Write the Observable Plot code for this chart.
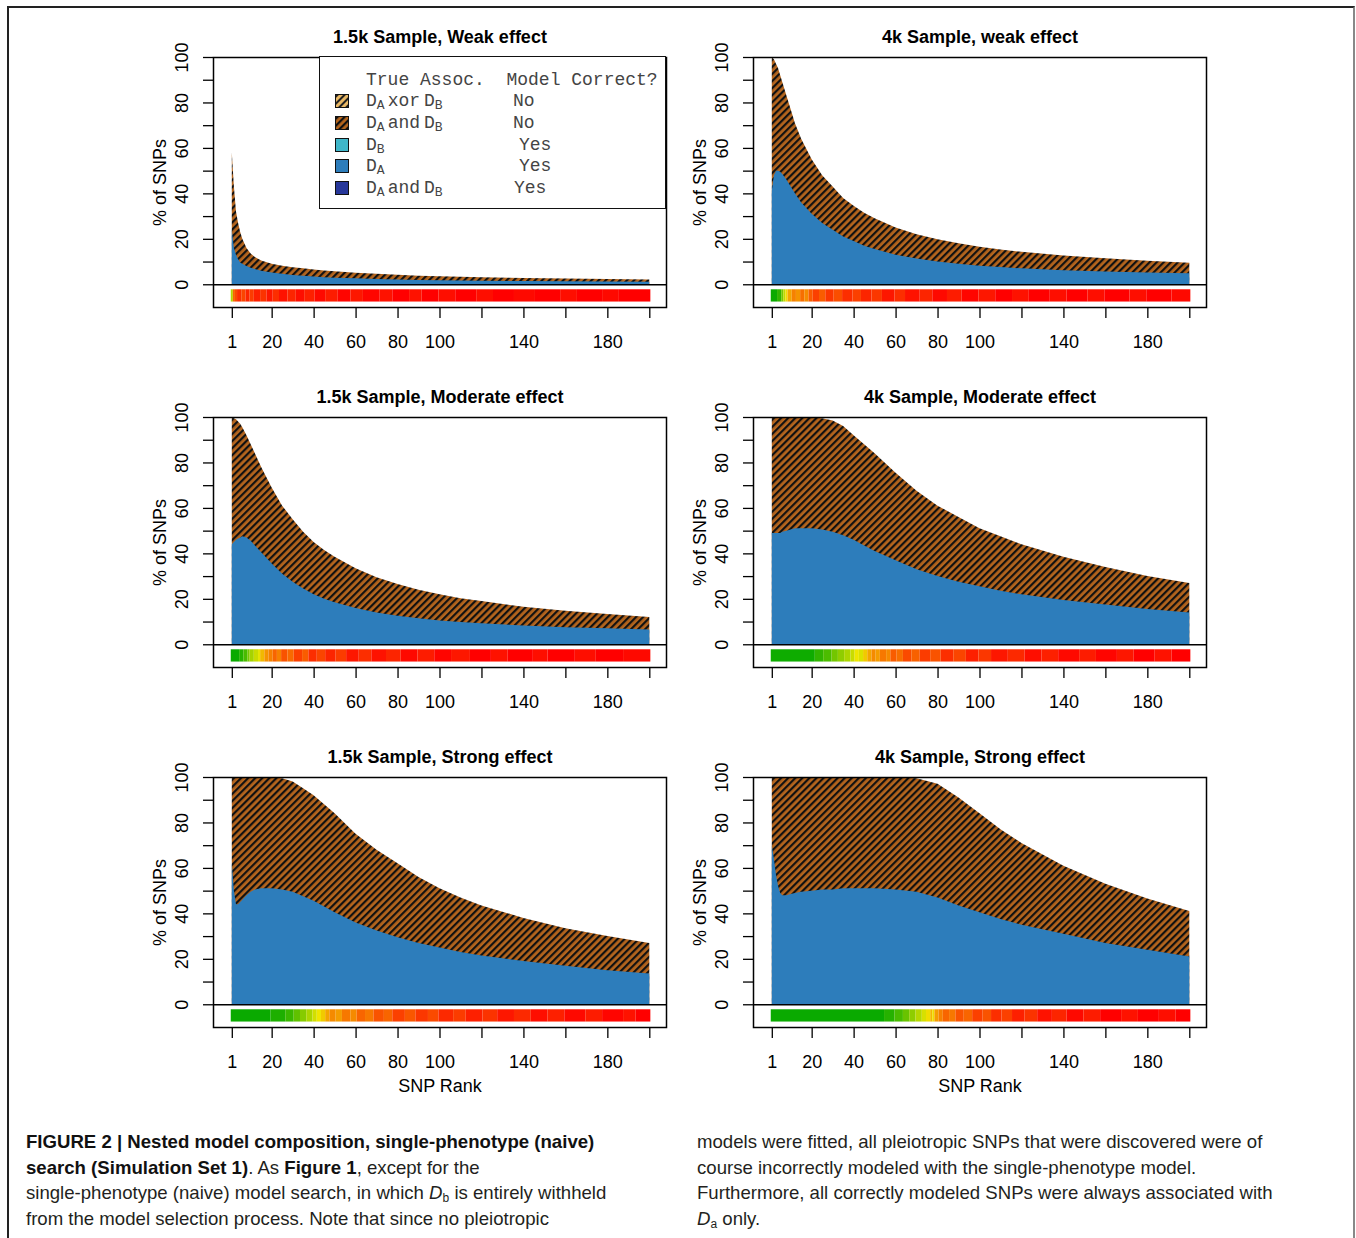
<!DOCTYPE html>
<html><head><meta charset="utf-8">
<script src="https://cdn.jsdelivr.net/npm/d3@7"></script>
<script src="https://cdn.jsdelivr.net/npm/@observablehq/plot@0.6"></script>
<style>
body{margin:0;background:#fff;}
#page{position:relative;width:1356px;height:1238px;overflow:hidden;background:#fff;font-family:'Liberation Sans',Arial,sans-serif;}
#frame{position:absolute;left:7px;top:6px;width:1344px;height:1260px;border-left:2px solid #222;border-top:2px solid #222;border-right:2px solid #888;}
.panel{position:absolute;}
#legend{position:absolute;left:319px;top:56px;width:345px;height:151px;border:1.5px solid #111;background:#fff;font-family:'Liberation Mono','Courier New',monospace;font-size:18px;color:#444;}
#legend .t{position:absolute;white-space:pre;line-height:20px;transform:translateY(-50%);}
#legend .sw{position:absolute;width:12px;height:12px;border:1.5px solid #111;transform:translateY(-50%);}
#legend sub{font-size:13px;vertical-align:-3px;line-height:0;}
#legend .w{margin:0 4px 0 3px;}
.cap{position:absolute;font-size:18.6px;line-height:25.5px;color:#231f20;white-space:nowrap;}
.cap b{font-weight:bold;color:#111;}
.cap sub{font-size:12px;vertical-align:-3px;line-height:0;}
</style></head><body>
<svg width="0" height="0" style="position:absolute">
 <defs>
  <pattern id="hatch" patternUnits="userSpaceOnUse" width="5" height="5" patternTransform="rotate(45)">
   <rect width="5" height="5" fill="#b5651d"></rect><rect width="2.2" height="5" fill="#111"></rect>
  </pattern>
  <pattern id="hatchLight" patternUnits="userSpaceOnUse" width="5" height="5" patternTransform="rotate(45)">
   <rect width="5" height="5" fill="#e9b865"></rect><rect width="2" height="5" fill="#222"></rect>
  </pattern>
 </defs>
</svg>
<div id="page"><div id="frame"></div></div>
<script>
// ---- sampled SNP ranks ----
const ranks = [1,2,3,4,5,6,8,10,12,15,20,25,30,35,40,45,50,60,70,80,90,100,110,120,140,160,180,200];

// ---- % of SNPs: total (D_A and D_B incorrect on top of D_A correct) and D_A correct ----
const weak15Total = [58,43,32,27,23,20,16,13.5,12,10.5,9,8.2,7.5,7,6.5,6.1,5.7,5.1,4.6,4.2,3.8,3.5,3.3,3.1,2.8,2.5,2.3,2.1];
const weak15DA    = [24,16,13,11,9.6,9,8,7.3,6.7,6,5.2,4.6,4.1,3.7,3.4,3.1,2.9,2.6,2.3,2.1,1.9,1.8,1.7,1.6,1.4,1.3,1.2,1.1];
const weak4Total  = [100,99,97,95,92,89,83,77,71,64,55,48,43,38,34.5,31.5,29,25,22,19.8,18,16.5,15.3,14.3,12.7,11.4,10.3,9.5];
const weak4DA     = [41,48,50,50,49.5,48.5,46,43,40,36,31,27,24,21,19,17,15.5,13,11.3,10,9,8.2,7.6,7,6.2,5.6,5.2,4.8];
const mod15Total  = [100,99.5,99,98,97,95.5,92,88,84,78,69,61,55,49.5,45,41.5,38.5,33.5,29.5,26.5,24,22,20.3,19,16.5,14.8,13.3,12];
const mod15DA     = [44,45,46,46.5,47,47.5,47,45.5,43.5,40.5,35.5,31,27.5,24.5,22,20,18.5,16,14,12.5,11.5,10.5,9.8,9.2,8.3,7.5,7,6.5];
const mod4Total   = [100,100,100,100,100,100,100,100,100,100,100,99.5,98.5,96,92,88,84,75.5,67.5,61,56,51,47.5,44,38.5,34,30,27];
const mod4DA      = [49,49,49,49,49,49.5,50,50.5,51,51,51,50.5,49.5,48,46,43.5,41,37,33,30,27.5,25.5,23.5,22,19.5,17.5,15.5,14];
const strong15Total = [100,100,100,100,100,100,100,100,100,100,100,99.5,98,95,92,88,84,75,68,62,56,51,47,43.5,38,33.5,30,27];
const strong15DA    = [62,50,44,44,45,46,48,49.5,50.5,51,51,50.5,49.5,47.5,45.5,43,40.5,36,32.5,29.5,27,25,23,21.5,19,17,15,13.5];
const strong4Total  = [100,100,100,100,100,100,100,100,100,100,100,100,100,100,100,100,100,100,99.5,97,91,84,77,71,61,53,46.5,41];
const strong4DA     = [70,64,57,52,49,48,48,48.5,49,49.5,50,50.5,50.5,51,51,51,51,50.5,49.5,47,43.5,40.5,37.5,35,31,27,24,21];

// ---- colour strip: [first rank of run, score 0=green .. 1=red] ----
const weak15Strip = [[1,0.38],[2,0.78],[3,0.84],[4,0.9],[6,0.85],[8,0.92],[10,0.87],[12,0.93],[15,0.89],[18,0.95],[21,0.9],[24,0.96],[28,0.92],[32,0.97],[36,0.93],[41,0.98],[46,0.94],[52,0.99],[58,0.95],[64,0.99],[72,0.96],[78,1],[86,0.96],[92,1],[100,0.97],[108,1],[118,0.97],[126,1],[136,0.98],[146,1],[158,0.97],[166,1],[178,0.98],[186,1]];
const weak4Strip  = [[1,0.02],[4,0.1],[6,0.25],[7,0.4],[8,0.52],[9,0.64],[11,0.72],[13,0.68],[15,0.76],[17,0.7],[19,0.8],[21,0.86],[24,0.8],[27,0.88],[31,0.83],[35,0.9],[40,0.86],[44,0.92],[49,0.88],[54,0.95],[60,0.9],[65,0.96],[72,0.92],[78,0.98],[85,0.94],[92,0.99],[100,0.95],[108,1],[116,0.96],[124,1],[134,0.97],[142,1],[152,0.97],[160,1],[172,0.97],[180,1],[192,0.98]];
const mod15Strip  = [[1,0.02],[5,0.08],[7,0.15],[9,0.25],[10,0.35],[12,0.42],[14,0.48],[15,0.6],[17,0.68],[19,0.72],[21,0.78],[23,0.72],[25,0.82],[28,0.77],[31,0.86],[35,0.8],[38,0.9],[42,0.85],[46,0.92],[51,0.87],[56,0.95],[62,0.9],[68,0.96],[75,0.92],[82,0.98],[90,0.94],[98,0.99],[106,0.95],[115,1],[125,0.96],[133,1],[145,0.97],[152,1],[165,0.97],[175,1],[188,0.98]];
const mod4Strip   = [[1,0.03],[22,0.1],[26,0.16],[30,0.24],[33,0.3],[36,0.36],[39,0.42],[41,0.5],[43,0.46],[45,0.56],[47,0.64],[49,0.7],[51,0.66],[53,0.74],[56,0.7],[58,0.8],[61,0.76],[64,0.84],[68,0.79],[72,0.87],[77,0.82],[82,0.9],[88,0.85],[94,0.93],[100,0.88],[106,0.95],[114,0.91],[122,0.97],[130,0.93],[138,0.98],[148,0.94],[156,0.99],[166,0.95],[174,1],[184,0.96],[192,1]];
const strong15Strip = [[1,0.02],[20,0.06],[27,0.12],[31,0.2],[34,0.28],[37,0.36],[40,0.44],[42,0.5],[44,0.56],[46,0.64],[48,0.7],[51,0.66],[54,0.74],[58,0.7],[61,0.78],[65,0.74],[69,0.82],[74,0.78],[78,0.86],[84,0.81],[89,0.88],[95,0.84],[100,0.91],[107,0.87],[113,0.93],[121,0.89],[128,0.95],[136,0.91],[144,0.97],[152,0.93],[160,0.98],[170,0.94],[178,0.99],[188,0.96],[194,1]];
const strong4Strip  = [[1,0.02],[55,0.08],[60,0.15],[64,0.22],[67,0.3],[70,0.38],[73,0.45],[75,0.52],[77,0.6],[78,0.52],[79,0.66],[81,0.72],[83,0.78],[86,0.74],[89,0.82],[93,0.78],[97,0.86],[102,0.82],[106,0.9],[111,0.86],[116,0.93],[122,0.89],[128,0.96],[135,0.92],[142,0.98],[150,0.94],[158,1],[168,0.96],[176,1],[186,0.97],[194,1]];

// ---- axes ----
const xTicks = [1,20,40,60,80,100,120,140,160,180,200];
const xLabels = [1,20,40,60,80,100,140,180];
const yTicks = [0,10,20,30,40,50,60,70,80,90,100];
const yLabels = [0,20,40,60,80,100];

const titles = ["1.5k Sample, Weak effect","4k Sample, weak effect","1.5k Sample, Moderate effect","4k Sample, Moderate effect","1.5k Sample, Strong effect","4k Sample, Strong effect"];

const panels = [
  {title:titles[0], total:weak15Total, da:weak15DA, strip:weak15Strip, col:0, row:0},
  {title:titles[1], total:weak4Total, da:weak4DA, strip:weak4Strip, col:1, row:0},
  {title:titles[2], total:mod15Total, da:mod15DA, strip:mod15Strip, col:0, row:1},
  {title:titles[3], total:mod4Total, da:mod4DA, strip:mod4Strip, col:1, row:1},
  {title:titles[4], total:strong15Total, da:strong15DA, strip:strong15Strip, col:0, row:2},
  {title:titles[5], total:strong4Total, da:strong4DA, strip:strong4Strip, col:1, row:2}
];

const page = document.getElementById("page");
const boxLefts = [213, 753], boxTops = [57, 417, 777];
const ML = 90, MT = 45, MR = 15, MB = 80, BW = 453, BH = 250;

for (const p of panels) {
  const rows = ranks.map((r,i)=>({rank:r, total:p.total[i], da:p.da[i]}));
  const segs = p.strip.map((s,i)=>({start:s[0], end: i+1<p.strip.length ? p.strip[i+1][0]-1 : 200, v:s[1]}));
  const bottom = p.row === 2;
  const chart = Plot.plot({
    width: ML+BW+MR, height: MT+BH+MB,
    marginLeft: ML, marginRight: MR, marginTop: MT, marginBottom: MB,
    x: {domain:[-7.96, 207.96]},
    y: {domain:[-10, 100]},
    color: {type:"linear", domain:[0,0.5,1], range:["#00a800","#efe600","#ff0000"], interpolate:"rgb"},
    style: {fontFamily:"'Liberation Sans', Arial, sans-serif", fontSize:"18px", color:"black", background:"transparent", overflow:"visible"},
    marks: [
      Plot.areaY(rows, {x:"rank", y1:0, y2:"total", fill:"url(#hatch)"}),
      Plot.areaY(rows, {x:"rank", y1:0, y2:"da", fill:"#2d7dbb"}),
      Plot.rect(segs, {x1:d=>d.start-0.5, x2:d=>d.end+0.5, y1:-2.2, y2:-7.6, fill:"v"}),
      Plot.ruleY([0], {stroke:"black", strokeWidth:1.4}),
      Plot.frame({stroke:"black", strokeWidth:1.5}),
      Plot.axisX({ticks:xTicks, tickFormat:d=>xLabels.includes(d)?String(d):"", tickSize:11, tickPadding:17, strokeWidth:1.3,
        label: bottom ? "SNP Rank" : null, labelAnchor:"center", labelOffset:64, labelArrow:"none"}),
      Plot.axisY({ticks:yTicks, tickFormat:d=>yLabels.includes(d)?String(d):"", tickRotate:-90, tickSize:10, tickPadding:16, strokeWidth:1.3,
        label:"% of SNPs", labelAnchor:"center", labelOffset:60, labelArrow:"none"}),
      Plot.text([p.title], {frameAnchor:"top", dy:-27, fontWeight:"bold", fontSize:18})
    ]
  });
  chart.classList.add("panel");
  chart.style.left = (boxLefts[p.col]-ML)+"px";
  chart.style.top = (boxTops[p.row]-MT)+"px";
  page.appendChild(chart);
}

// ---- legend ----
const legendRows = [
  {sw:"url(#hatchLight)", a:"xor", ans:"No", ax:513},
  {sw:"url(#hatch)", a:"and", ans:"No", ax:513},
  {sw:"#3fb6c9", a:null, b:"B", ans:"Yes", ax:519},
  {sw:"#2d7dbb", a:null, b:"A", ans:"Yes", ax:519},
  {sw:"#27379a", a:"and", ans:"Yes", ax:514}
];
const lg = document.createElement("div");
lg.id = "legend";
const L0 = 320, T0 = 57;
let html = `<div class="t" style="left:${366-L0}px;top:${80-T0}px">True Assoc.  Model Correct?</div>`;
const rowY = [101,123,145,166,188];
legendRows.forEach((r,i)=>{
  const y = rowY[i]-T0;
  const swBg = r.sw.startsWith("url") ? "" : `background:${r.sw};`;
  html += `<div class="sw" style="left:${335-L0}px;top:${y}px;${swBg}">${r.sw.startsWith("url") ? `<svg width="12" height="12" style="display:block"><rect width="12" height="12" fill="${r.sw}"></rect></svg>` : ""}</div>`;
  const label = r.a ? `D<sub>A</sub><span class="w">${r.a}</span>D<sub>B</sub>` : `D<sub>${r.b}</sub>`;
  html += `<div class="t" style="left:${366-L0}px;top:${y}px">${label}</div>`;
  html += `<div class="t" style="left:${r.ax-L0}px;top:${y}px">${r.ans}</div>`;
});
lg.innerHTML = html;
page.appendChild(lg);

// ---- caption ----
const capLeft = [
  `<b>FIGURE 2 | Nested model composition, single-phenotype (naive)</b>`,
  `<b>search (Simulation Set 1)</b>. As <b>Figure 1</b>, except for the`,
  `single-phenotype (naive) model search, in which <i>D</i><sub>b</sub> is entirely withheld`,
  `from the model selection process. Note that since no pleiotropic`
];
const capRight = [
  `models were fitted, all pleiotropic SNPs that were discovered were of`,
  `course incorrectly modeled with the single-phenotype model.`,
  `Furthermore, all correctly modeled SNPs were always associated with`,
  `<i>D</i><sub>a</sub> only.`
];
for (const [x, lines] of [[26, capLeft], [697, capRight]]) {
  const d = document.createElement("div");
  d.className = "cap";
  d.style.left = x+"px";
  d.style.top = "1129px";
  d.innerHTML = lines.join("<br>");
  page.appendChild(d);
}
</script>
</body></html>
